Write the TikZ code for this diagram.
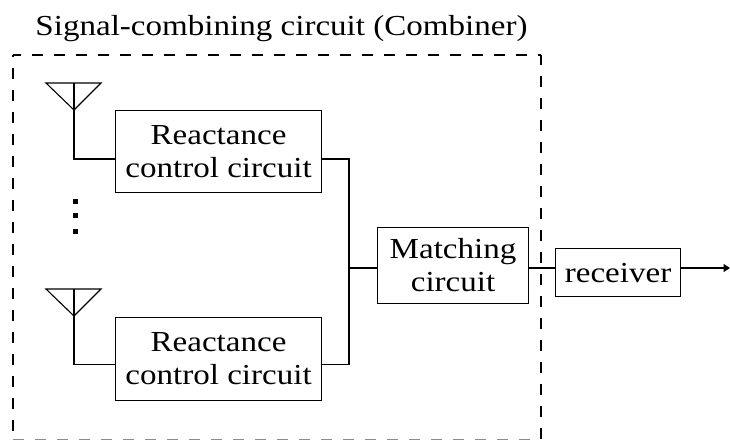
\documentclass[tikz,border=0pt]{standalone}
\usepackage{fontspec}
\setmainfont[FakeStretch=1.14]{Liberation Serif}
\usetikzlibrary{arrows.meta}
\tikzset{
  block/.style={draw,line width=1.1pt,inner sep=0pt,align=center,font=\fontsize{29}{33}\selectfont,anchor=north west,fill=none},
  wire/.style={line width=1.1pt},
  frame/.style={line width=1.1pt,dash pattern=on 11pt off 11pt},
  dotmark/.style={fill=black,inner sep=0pt,minimum size=5pt,draw=none}
}
\begin{document}
\begin{tikzpicture}[x=1pt,y=-1pt]
\useasboundingbox (0,0) rectangle (730,439);
\node[anchor=center,font=\fontsize{29}{33}\selectfont] (title) at (281.5,29) {Signal-combining circuit (Combiner)};
\coordinate (tl) at (13,55);
\coordinate (tr) at (541,55);
\coordinate (bl) at (13,439.3);
\coordinate (br) at (541,439.3);
\draw[frame,dash phase=9pt] (tl) -- (bl);
\draw[frame,dash phase=3pt] (tl) -- (tr);
\draw[frame,dash phase=1pt] (tr) -- (br);
\draw[frame,draw=black!45] (bl) -- (br);
\node[block,minimum width=206pt,minimum height=82pt] (r1) at (115,110) {Reactance\\control circuit};
\node[block,minimum width=206pt,minimum height=83pt] (r2) at (115,317) {Reactance\\control circuit};
\node[block,minimum width=151pt,minimum height=76pt] (m) at (377,227) {Matching\\circuit};
\node[block,minimum width=125pt,minimum height=48pt] (rx) at (555,248) {receiver};
\coordinate (a1) at (74,110);
\coordinate (a2) at (74,316);
\coordinate (end) at (730,268);
\coordinate (j) at (349,268);
\draw[wire] (46,83) -- (101,83) -- (a1) -- cycle;
\draw[wire] (74,83) -- (a1) |- (115,159);
\draw[wire] (46,289) -- (101,289) -- (a2) -- cycle;
\draw[wire] (74,289) -- (a2) |- (115,364.5);
\draw[wire] (321,159) -| (j);
\draw[wire] (321,364.5) -| (j);
\draw[wire] (j) -- (377,268);
\draw[wire] (528,268) -- (555,268);
\draw[wire,-{Triangle[length=6.5pt,width=8pt]}] (680,268) -- (end);
\node[dotmark] (d1) at (75,201) {};
\node[dotmark] (d2) at (75,215) {};
\node[dotmark] (d3) at (75,231) {};
\end{tikzpicture}
\end{document}
